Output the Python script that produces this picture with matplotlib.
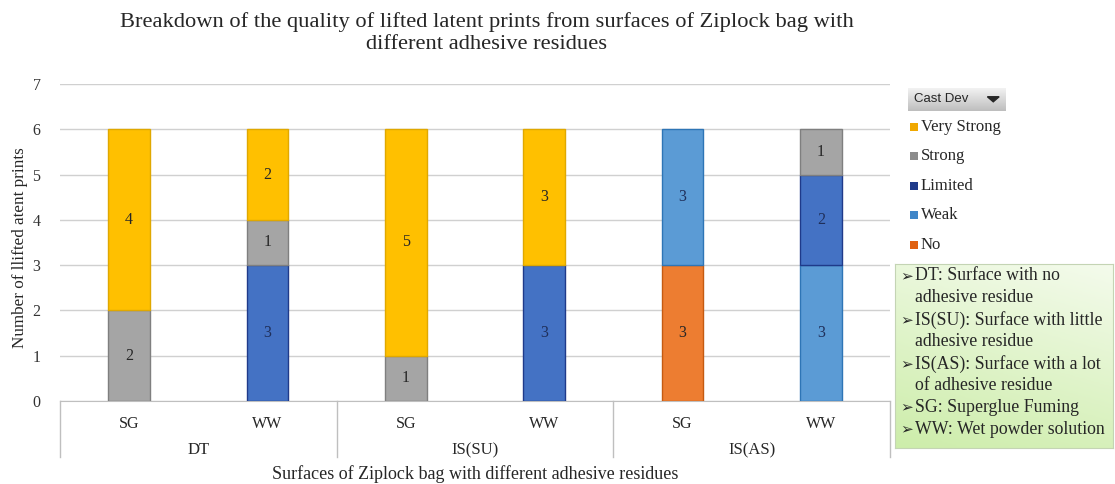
import matplotlib
matplotlib.use("Agg")
import matplotlib.pyplot as plt
import numpy as np
from matplotlib.patches import Rectangle, Polygon
from matplotlib.transforms import blended_transform_factory

plt.rcParams['font.family'] = ['Liberation Serif', 'DejaVu Sans']

# ---- data ----
groups = ["DT", "IS(SU)", "IS(AS)"]
methods = ["SG", "WW"]
tick_labels = ["SG", "WW", "SG", "WW", "SG", "WW"]
levels = ["No", "Weak", "Limited", "Strong", "Very Strong"]
no_vals = [0, 0, 0, 0, 3, 0]
weak_vals = [0, 0, 0, 0, 3, 3]
limited_vals = [0, 3, 0, 3, 0, 2]
strong_vals = [2, 1, 1, 0, 0, 1]
very_strong_vals = [4, 2, 5, 3, 0, 0]
series = [no_vals, weak_vals, limited_vals, strong_vals, very_strong_vals]

colors = {"No": "#ED7D31", "Weak": "#5B9BD5", "Limited": "#4472C4",
          "Strong": "#A5A5A5", "Very Strong": "#FFC000"}
edges = {"No": "#C55A11", "Weak": "#2E75B6", "Limited": "#1F3A8A",
         "Strong": "#7F7F7F", "Very Strong": "#E0A800"}
legend_colors = {"No": "#E06010", "Weak": "#3F86C8", "Limited": "#1F3A8A",
                 "Strong": "#8C8C8C", "Very Strong": "#F0A800"}
label_colors = {"No": "#262626", "Weak": "#1F2F5A", "Limited": "#1F2F5A",
                "Strong": "#262626", "Very Strong": "#262626"}

legend_notes = ["DT: Surface with no", "adhesive residue",
                "IS(SU): Surface with little", "adhesive residue",
                "IS(AS): Surface with a lot", "of adhesive residue",
                "SG: Superglue Fuming", "WW: Wet powder solution"]
note_bullets = [True, False, True, False, True, False, True, True]

W, H = 1115, 484
fig = plt.figure(figsize=(W / 100, H / 100), dpi=100)
ax = fig.add_axes([60 / W, 1 - 401 / H, 830 / W, 317 / H])

x = np.arange(len(tick_labels))
bottom = np.zeros(len(x))
for lev, vals in zip(levels, series):
    vals = np.array(vals, dtype=float)
    m = vals > 0
    ax.bar(x[m], vals[m], width=0.30, bottom=bottom[m], color=colors[lev],
           edgecolor=edges[lev], linewidth=1.0, zorder=3)
    for xi, v, b in zip(x[m], vals[m], bottom[m]):
        ax.text(xi, b + v / 2, f"{int(v)}", ha='center', va='center',
                fontsize=11.5, color=label_colors[lev], zorder=4)
    bottom += vals

ax.set_xlim(-0.5, len(x) - 0.5)
ax.set_ylim(0, 7)
ax.set_yticks(range(0, 8))
ax.yaxis.grid(True, color='#D0D0D0', linewidth=1.0, zorder=0)
ax.tick_params(axis='y', length=0, labelsize=11.5, labelcolor='#333333', pad=14)
ax.tick_params(axis='x', length=0, labelsize=11.5, labelcolor='#262626', pad=11)
ax.set_xticks(x)
ax.set_xticklabels(tick_labels)
for s in ['top', 'right', 'left']:
    ax.spines[s].set_visible(False)
ax.spines['bottom'].set_color('#BFBFBF')

trans = blended_transform_factory(ax.transData, ax.transAxes)
for sep in [-0.5, 1.5, 3.5, 5.5]:
    ax.plot([sep, sep], [0, -56 / 317], transform=trans, color='#BFBFBF',
            linewidth=1.0, clip_on=False)
for gi, g in enumerate(groups):
    ax.text(gi * 2 + 0.5, -49 / 317, g, transform=trans, ha='center', va='center',
            fontsize=12, color='#262626')

fig.text(475 / W, 1 - 474 / H, "Surfaces of Ziplock bag with different adhesive residues",
         ha='center', va='center', fontsize=13, color='#262626')
fig.text(20 / W, 1 - 248 / H, "Number of llifted atent prints", rotation=90,
         ha='center', va='center', fontsize=12.3, color='#262626')

fig.text(487 / W, 1 - 33 / H,
         "Breakdown of the quality of lifted latent prints from surfaces of Ziplock bag with\ndifferent adhesive residues",
         ha='center', va='center', fontsize=16.2, color='#262626', linespacing=1.25)

# Cast Dev button
btn = fig.add_axes([908 / W, 1 - 111 / H, 98 / W, 23 / H])
grad = np.linspace(0, 1, 50).reshape(-1, 1)
btn.imshow(grad, aspect='auto', cmap=matplotlib.colors.LinearSegmentedColormap.from_list(
    'b', ['#F2F2F2', '#BEBEBE']), extent=[0, 1, 0, 1], origin='upper')
btn.set_xlim(0, 1); btn.set_ylim(0, 1)
btn.axis('off')
btn.text(0.06, 0.5, "Cast Dev", family=['Liberation Sans', 'DejaVu Sans'],
         fontsize=9.5, va='center', ha='left', color='#262626')
btn.add_patch(Polygon([[0.81, 0.62], [0.93, 0.62], [0.87, 0.40]], closed=True,
                      color='#262626'))

# Legend (top to bottom reversed order)
ly = [127, 156, 186, 215, 245]
for lev, yy in zip(levels[::-1], ly):
    fig.patches.append(Rectangle((910 / W, 1 - (yy + 4) / H), 8 / W, 8 / H,
                                 transform=fig.transFigure, facecolor=legend_colors[lev],
                                 edgecolor='none'))
    fig.text(921 / W, 1 - yy / H, lev, fontsize=12, va='center', ha='left', color='#262626')

# Green notes box
nb = fig.add_axes([895 / W, 1 - 448 / H, 218 / W, 184 / H])
g2 = np.linspace(0, 1, 100).reshape(-1, 1) * np.ones((1, 50))
gx = np.linspace(0, 1, 50).reshape(1, -1)
mix = np.clip(0.75 * g2 + 0.25 * (1 - gx), 0, 1)
cmap_g = matplotlib.colors.LinearSegmentedColormap.from_list('g', ['#F4FBEC', '#CDEDAA'])
nb.imshow(mix, aspect='auto', cmap=cmap_g, extent=[0, 1, 0, 1], origin='upper')
nb.set_xlim(0, 1); nb.set_ylim(0, 1)
nb.set_xticks([]); nb.set_yticks([])
for s in nb.spines.values():
    s.set_color('#C4D4B4')
y0 = 276
for i, (t, b) in enumerate(zip(legend_notes, note_bullets)):
    yy = y0 + i * 21.9
    if b:
        fig.text(900 / W, 1 - yy / H, "\u27a2", family=['DejaVu Sans'], fontsize=11,
                 va='center', ha='left', color='#262626')
    fig.text(915 / W, 1 - yy / H, t, fontsize=12.8, va='center', ha='left', color='#262626')

fig.savefig("out.png", dpi=100)
